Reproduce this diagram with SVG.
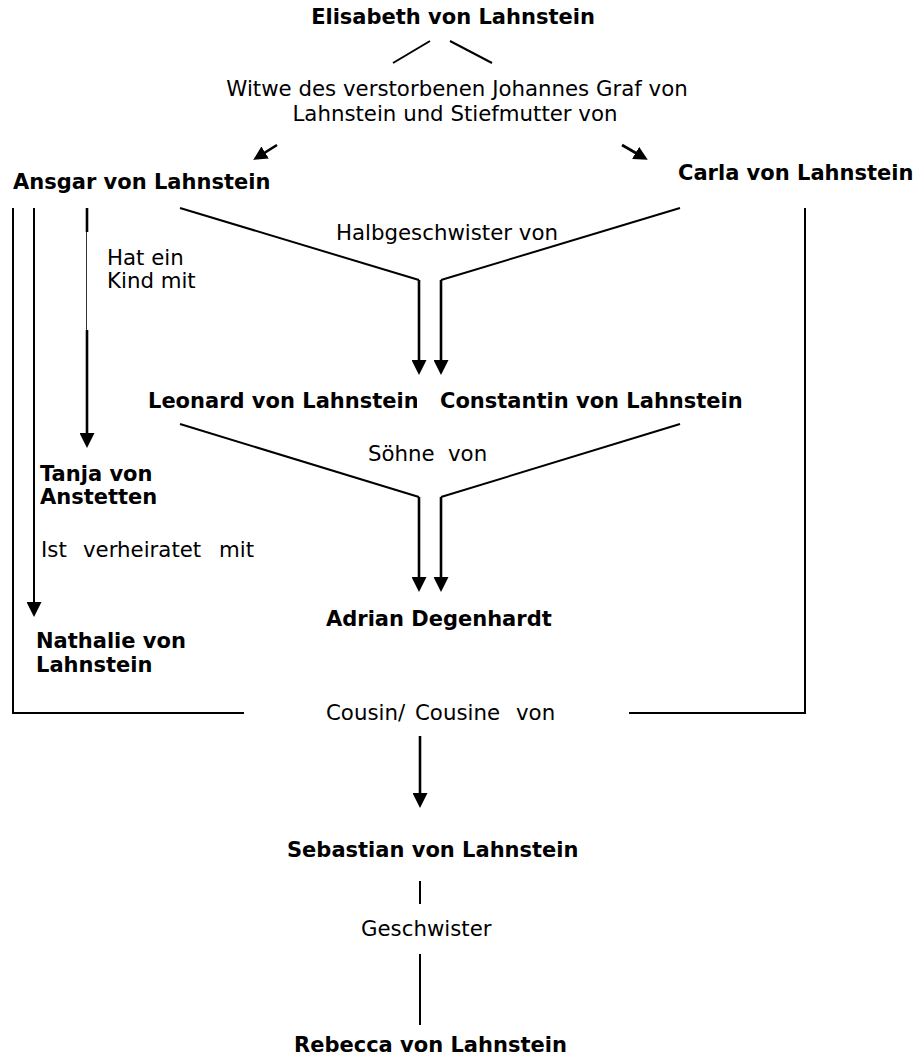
<svg xmlns="http://www.w3.org/2000/svg" width="919" height="1057" viewBox="0 0 919 1057">
  <style>
    .name { font-family: "DejaVu Sans", Verdana, sans-serif; font-weight: bold; font-size: 21px; fill: #000; }
    .rel  { font-family: "DejaVu Sans", Verdana, sans-serif; font-size: 21.3px; fill: #000; }
    .ln   { fill: none; stroke: #000; stroke-width: 2; }
    .shaft { fill: none; stroke: #000; stroke-width: 2.6; }
    .thin { fill: none; stroke: #333; stroke-width: 1; }
  </style>
  <defs>
    <marker id="head" viewBox="0 0 15 15" refX="11" refY="7.5" markerWidth="15" markerHeight="15" markerUnits="userSpaceOnUse" orient="auto">
      <path d="M0,0 L15,7.5 L0,15 z" fill="#000"/>
    </marker>
    <marker id="headSmall" viewBox="0 0 15 15" refX="11" refY="7.5" markerWidth="14" markerHeight="14" markerUnits="userSpaceOnUse" orient="auto">
      <path d="M0,0 L15,7.5 L0,15 z" fill="#000"/>
    </marker>
    <clipPath id="leonardClip">
      <rect x="0" y="380" width="417" height="40"/>
    </clipPath>
  </defs>

  <rect width="919" height="1057" fill="#fff"/>

  <!-- connectors -->
  <g id="connectors">
    <!-- Elisabeth fan-out -->
    <line class="ln" x1="430" y1="41" x2="393" y2="63"/>
    <line class="ln" x1="450" y1="41" x2="492" y2="63"/>
    <line class="shaft" x1="277" y1="145" x2="256.4" y2="157.9" marker-end="url(#headSmall)"/>
    <line class="shaft" x1="622" y1="145" x2="644.5" y2="158" marker-end="url(#headSmall)"/>

    <!-- outer frame: Ansgar / Carla to "Cousin/ Cousine von" -->
    <path class="ln" d="M13,208 V713 H244"/>
    <path class="ln" d="M629,713 H805 V208"/>

    <!-- Ansgar to Nathalie -->
    <line class="ln" x1="34" y1="208" x2="34" y2="613" marker-end="url(#head)"/>

    <!-- Ansgar to Tanja (broken by label) -->
    <line class="shaft" x1="87" y1="208" x2="87" y2="232"/>
    <line class="thin" x1="86.5" y1="232" x2="86.5" y2="330"/>
    <line class="shaft" x1="87" y1="330" x2="87" y2="444" marker-end="url(#head)"/>

    <!-- Halbgeschwister -->
    <path class="ln" d="M180,208 L419,280"/>
    <line class="shaft" x1="419" y1="280" x2="419" y2="371" marker-end="url(#head)"/>
    <path class="ln" d="M680,208 L441,280"/>
    <line class="shaft" x1="441" y1="280" x2="441" y2="371" marker-end="url(#head)"/>

    <!-- Söhne von -->
    <path class="ln" d="M180,424 L419,497"/>
    <line class="shaft" x1="419" y1="497" x2="419" y2="588" marker-end="url(#head)"/>
    <path class="ln" d="M680,424 L441,497"/>
    <line class="shaft" x1="441" y1="497" x2="441" y2="588" marker-end="url(#head)"/>

    <!-- Cousin/ Cousine von to Sebastian -->
    <line class="shaft" x1="420" y1="736" x2="420" y2="804" marker-end="url(#head)"/>

    <!-- Geschwister -->
    <line class="ln" x1="420" y1="881" x2="420" y2="904"/>
    <line class="ln" x1="420" y1="954" x2="420" y2="1025"/>
  </g>

  <!-- relation labels -->
  <g id="labels">
    <text class="rel" x="457" y="96" text-anchor="middle">Witwe des verstorbenen Johannes Graf von</text>
    <text class="rel" x="455" y="121" text-anchor="middle">Lahnstein und Stiefmutter von</text>
    <text class="rel" x="107" y="265">Hat ein</text>
    <text class="rel" x="107" y="288">Kind mit</text>
    <text class="rel" x="336" y="240">Halbgeschwister von</text>
    <text class="rel" y="461"><tspan x="368">Söhne</tspan><tspan x="448">von</tspan></text>
    <text class="rel" y="557"><tspan x="41">Ist</tspan><tspan x="83">verheiratet</tspan><tspan x="219">mit</tspan></text>
    <text class="rel" y="720"><tspan x="326">Cousin/</tspan><tspan x="415">Cousine</tspan><tspan x="516">von</tspan></text>
    <text class="rel" x="361" y="936">Geschwister</text>
  </g>

  <!-- people -->
  <g id="elisabeth"><text class="name" x="453" y="24" text-anchor="middle">Elisabeth von Lahnstein</text></g>
  <g id="ansgar"><text class="name" x="13" y="189">Ansgar von Lahnstein</text></g>
  <g id="carla"><text class="name" x="678" y="180">Carla von Lahnstein</text></g>
  <g id="leonard"><text class="name" x="148" y="408" clip-path="url(#leonardClip)">Leonard von Lahnstein</text></g>
  <g id="constantin"><text class="name" x="440" y="408">Constantin von Lahnstein</text></g>
  <g id="tanja">
    <text class="name" x="40" y="481">Tanja von</text>
    <text class="name" x="40" y="504">Anstetten</text>
  </g>
  <g id="adrian"><text class="name" x="326" y="626">Adrian Degenhardt</text></g>
  <g id="nathalie">
    <text class="name" x="36" y="648">Nathalie von</text>
    <text class="name" x="36" y="672">Lahnstein</text>
  </g>
  <g id="sebastian"><text class="name" x="287" y="857">Sebastian von Lahnstein</text></g>
  <g id="rebecca"><text class="name" x="294" y="1052">Rebecca von Lahnstein</text></g>
</svg>
